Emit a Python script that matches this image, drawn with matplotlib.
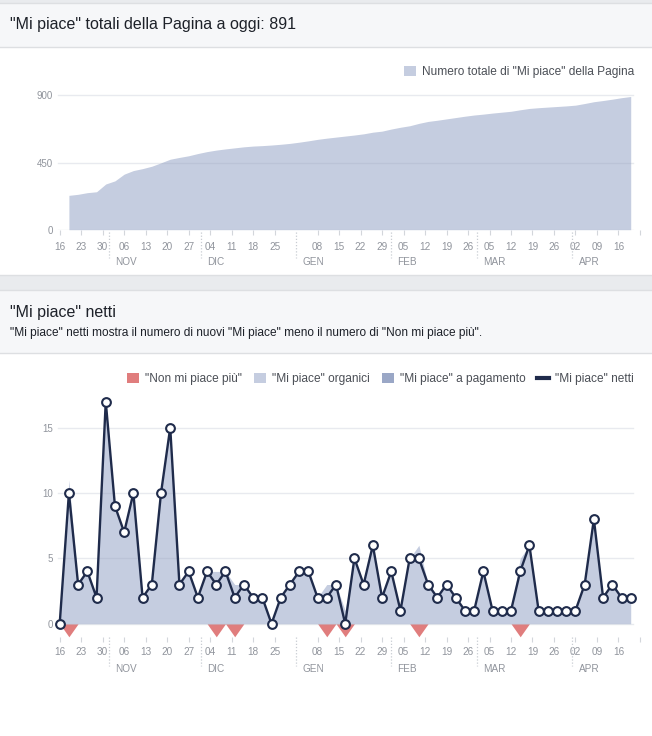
import numpy as np
import pandas as pd
import matplotlib
matplotlib.use("Agg")
import matplotlib.pyplot as plt
import matplotlib.dates as mdates
from matplotlib.patches import Rectangle, Patch
from matplotlib.lines import Line2D
from matplotlib.transforms import blended_transform_factory

plt.rcParams['font.family'] = ['Liberation Sans', 'DejaVu Sans']

# ---------------- DATA ----------------
title_total = '"Mi piace" totali della Pagina a oggi: 891'
title_net = '"Mi piace" netti'
subtitle_net = ('"Mi piace" netti mostra il numero di nuovi "Mi piace" meno il numero '
                'di "Non mi piace più".')

# total page likes (one value every 3 days, from 19 Oct)
total_dates = pd.date_range("2017-10-19", periods=62, freq="3D")
total_likes = [230, 237, 248, 254, 306, 327, 372, 396, 409, 425,
               448, 472, 484, 495, 510, 523, 533, 541, 548, 555,
               560, 563, 567, 572, 578, 586, 595, 605, 613, 620,
               627, 634, 642, 653, 660, 674, 686, 696, 712, 725,
               733, 742, 751, 760, 768, 774, 781, 787, 793, 803,
               812, 817, 821, 825, 829, 834, 845, 857, 865, 874,
               884, 892]

# net likes (one value every 3 days, from 16 Oct)
net_dates = pd.date_range("2017-10-16", periods=63, freq="3D")
net_likes = [0, 10, 3, 4, 2, 17, 9, 7, 10, 2,
             3, 10, 15, 3, 4, 2, 4, 3, 4, 2,
             3, 2, 2, 0, 2, 3, 4, 4, 2, 2,
             3, 0, 5, 3, 6, 2, 4, 1, 5, 5,
             3, 2, 3, 2, 1, 1, 4, 1, 1, 1,
             4, 6, 1, 1, 1, 1, 1, 3, 8, 2,
             3, 2, 2]
unlikes = [0, 1, 0, 0, 0, 0, 0, 0, 0, 0,
           0, 0, 0, 0, 0, 0, 0, 1, 0, 1,
           0, 0, 0, 0, 0, 0, 0, 0, 0, 1,
           0, 1, 0, 0, 0, 0, 0, 0, 0, 1,
           0, 0, 0, 0, 0, 0, 0, 0, 0, 0,
           1, 0, 0, 0, 0, 0, 0, 0, 0, 0,
           0, 0, 0]
paid_likes = [0] * 63

legend_total = ['Numero totale di "Mi piace" della Pagina']
legend_net = ['"Non mi piace più"', '"Mi piace" organici',
              '"Mi piace" a pagamento', '"Mi piace" netti']
months = ["2017-11-01", "2017-12-01", "2018-01-01", "2018-02-01", "2018-03-01", "2018-04-01"]
month_names = ["NOV", "DIC", "GEN", "FEB", "MAR", "APR"]
week_ticks = pd.date_range("2017-10-16", "2018-04-23", freq="7D")

# ---------------- STYLE ----------------
W, H = 652, 736
c_fill = '#c5cde0'
c_paid = '#9aa7c6'
c_red = '#e07d7d'
c_line = '#1f2b4b'
c_tick = '#90949c'
c_text = '#4b4f56'

net = np.array(net_likes, dtype=float)
unl = np.array(unlikes, dtype=float)
paid = np.array(paid_likes, dtype=float)
organic = net + unl - paid

base = mdates.date2num(np.datetime64("2017-10-16"))
px_day = 3.07
ax_l, ax_r = 55, 640
X0 = base - (59.7 - ax_l) / px_day
X1 = base + (ax_r - 59.7) / px_day

fig = plt.figure(figsize=(W / 100, H / 100), dpi=100)
fig.patch.set_facecolor('white')


def rect(x0, y0, x1, y1, color):
    fig.add_artist(Rectangle((x0 / W, 1 - y1 / H), (x1 - x0) / W, (y1 - y0) / H,
                             transform=fig.transFigure, facecolor=color,
                             edgecolor='none', zorder=0))


def hline(y, color):
    fig.add_artist(Line2D([0, 1], [1 - y / H, 1 - y / H], transform=fig.transFigure,
                          color=color, lw=1, zorder=1))


# page panels / headers
rect(0, 0, W, 3, '#e9ebee')
rect(0, 3, W, 47, '#f6f7f9')
hline(3, '#dddfe2')
hline(47, '#dddfe2')
rect(0, 275, W, 290, '#e9ebee')
hline(275, '#dddfe2')
hline(290, '#dddfe2')
rect(0, 290, W, 353, '#f6f7f9')
hline(353, '#dddfe2')

fig.text(10 / W, 1 - 24 / H, title_total, fontsize=11.5, color='#1d2129', va='center')
fig.text(10 / W, 1 - 313 / H, title_net, fontsize=11.5, color='#1d2129', va='center')
fig.text(10 / W, 1 - 333 / H, subtitle_net, fontsize=8.6, color='#1d2129', va='center')


def make_axes(y_top, y_bot, ylim, yticks, div_y, month_y, tick_pad):
    ax = fig.add_axes([ax_l / W, 1 - y_bot / H, (ax_r - ax_l) / W, (y_bot - y_top) / H])
    ax.set_facecolor('none')
    ax.set_xlim(X0, X1)
    ax.set_ylim(*ylim)
    for s in ax.spines.values():
        s.set_visible(False)
    ax.set_yticks(yticks)
    ax.tick_params(axis='y', length=0, pad=1.5, labelsize=7.0, labelcolor=c_tick)
    ticks = [d for d in week_ticks if d != pd.Timestamp("2018-01-01")]
    ax.set_xticks(mdates.date2num(ticks))
    ax.set_xticklabels([d.strftime('%d') if d <= pd.Timestamp("2018-04-16") else ''
                        for d in ticks])
    ax.tick_params(axis='x', length=3.5, width=0.8, color='#d3d6db', pad=tick_pad,
                   labelsize=7.2, labelcolor=c_tick)
    # gridlines
    g0 = (58 - ax_l) / (ax_r - ax_l)
    g1 = (633 - ax_l) / (ax_r - ax_l)
    for v in yticks:
        ax.axhline(v, g0, g1, color='#9aa3b8', alpha=0.22, lw=1, zorder=3)
    # month dividers and labels
    tr = blended_transform_factory(ax.transData, fig.transFigure)
    for m, name in zip(months, month_names):
        xm = mdates.date2num(np.datetime64(m))
        ax.plot([xm, xm], [1 - div_y[0] / H, 1 - div_y[1] / H], transform=tr,
                color='#c8ccd2', lw=0.9, ls=(0, (1, 1.5)), clip_on=False)
        ax.text(xm + 2, 1 - month_y / H, name, transform=tr, fontsize=7.2,
                color=c_tick, va='center', ha='left')
    return ax


# ---------------- TOP CHART ----------------
ax1 = make_axes(88, 229.7, (0, 948.9), [0, 450, 900], (232, 258), 262.5, 5.0)
ax1.fill_between(mdates.date2num(total_dates), 0, total_likes, color=c_fill, lw=0, zorder=2)
fig.legend(handles=[Patch(facecolor=c_fill, edgecolor='none')], labels=legend_total,
           loc='center right', bbox_to_anchor=(634 / W, 1 - 72 / H),
           bbox_transform=fig.transFigure, frameon=False, fontsize=8.6,
           handlelength=1.0, handleheight=1.0, handletextpad=0.5,
           borderpad=0, borderaxespad=0, labelcolor=c_text)

# ---------------- BOTTOM CHART ----------------
ax2 = make_axes(392, 636.5, (-0.979, 17.73), [0, 5, 10, 15], (637, 666), 669, 4.4)
xn = mdates.date2num(net_dates)
ax2.fill_between(xn, 0, -unl, color=c_red, lw=0, zorder=2, clip_on=False)
ax2.fill_between(xn, 0, organic, color=c_fill, lw=0, zorder=2)
ax2.fill_between(xn, organic, organic + paid, color=c_paid, lw=0, zorder=2)
ax2.plot(xn, net, color=c_line, lw=1.7, marker='o', markersize=6.3,
         markerfacecolor='white', markeredgecolor=c_line, markeredgewidth=1.5,
         zorder=4, clip_on=False)

handles = [Patch(facecolor=c_red, edgecolor='none'),
           Patch(facecolor=c_fill, edgecolor='none'),
           Patch(facecolor=c_paid, edgecolor='none'),
           Line2D([], [], color=c_line, lw=3)]
fig.legend(handles=handles, labels=legend_net, loc='center right',
           bbox_to_anchor=(634 / W, 1 - 379 / H), bbox_transform=fig.transFigure,
           ncol=4, frameon=False, fontsize=8.6, handlelength=1.0, handleheight=1.0,
           handletextpad=0.5, columnspacing=1.0, borderpad=0, borderaxespad=0,
           labelcolor=c_text)

fig.savefig("out.png", dpi=100)
